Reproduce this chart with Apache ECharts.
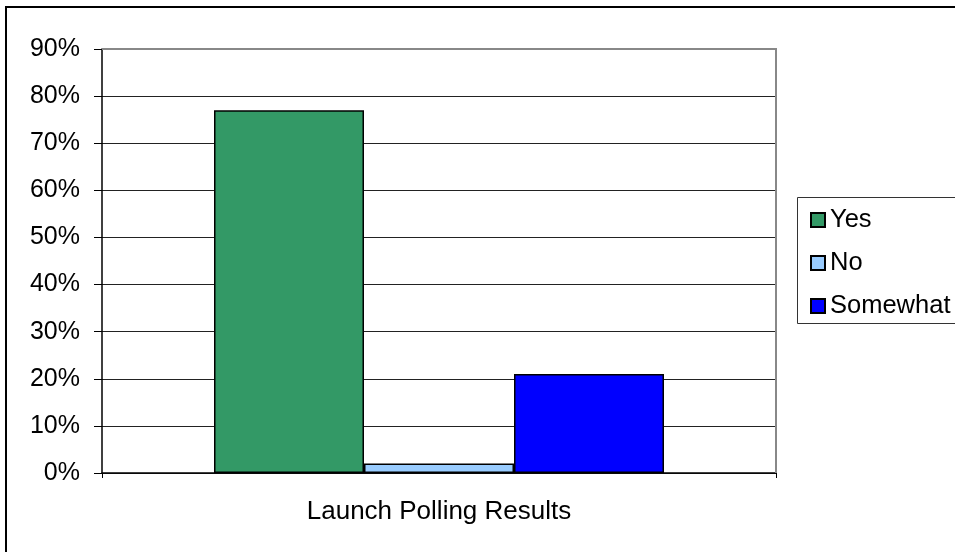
<!DOCTYPE html>
<html>
<head>
<meta charset="utf-8">
<script src="https://cdn.jsdelivr.net/npm/echarts@6/dist/echarts.min.js"></script>
<style>
html,body{margin:0;padding:0;background:#fff;}
#chart{width:955px;height:552px;}
</style>
</head>
<body>
<div id="chart"></div>
<script>
var categories = ['Launch Polling Results'];
var seriesNames = ['Yes', 'No', 'Somewhat'];
var yesValues = [77];
var noValues = [2];
var somewhatValues = [21];
var seriesColors = ['#339966', '#99CCFF', '#0000FF'];
var yTicks = { min: 0, max: 90, interval: 10 };

var FONT = 'Liberation Sans, Arial, sans-serif';
var chart = echarts.init(document.getElementById('chart'), null, {renderer: 'canvas'});

var seriesData = [yesValues, noValues, somewhatValues];
var series = seriesNames.map(function (name, i) {
  return {
    name: name,
    type: 'bar',
    data: seriesData[i],
    barWidth: 150,
    barGap: '0%',
    itemStyle: { color: seriesColors[i], borderColor: '#000', borderWidth: 1.5 },
    emphasis: { disabled: true },
    animation: false
  };
});

chart.setOption({
  animation: false,
  backgroundColor: '#fff',
  textStyle: { fontFamily: FONT },
  grid: { left: 102, top: 49, width: 674, height: 424, containLabel: false },
  xAxis: {
    type: 'category',
    data: categories,
    axisLine: { lineStyle: { color: '#000', width: 1.5 } },
    axisTick: { show: true, length: 5, lineStyle: { color: '#000' } },
    axisLabel: { fontSize: 26, color: '#000', margin: 26, fontFamily: FONT }
  },
  yAxis: {
    type: 'value',
    min: yTicks.min, max: yTicks.max, interval: yTicks.interval,
    axisLine: { show: true, lineStyle: { color: '#000', width: 1.5 } },
    axisTick: { show: true, length: 8, lineStyle: { color: '#000' } },
    axisLabel: { fontSize: 25, color: '#000', margin: 22, fontFamily: FONT, formatter: '{value}%' },
    splitLine: { show: true, lineStyle: { color: '#222', width: 1 } }
  },
  legend: {
    orient: 'vertical',
    left: 810,
    top: 207,
    padding: 0,
    itemWidth: 14,
    itemHeight: 14,
    itemGap: 17,
    icon: 'rect',
    selectedMode: false,
    textStyle: { fontSize: 25.5, color: '#000', fontFamily: FONT, lineHeight: 25 },
    data: seriesNames
  },
  graphic: [
    { type: 'rect', z: 100, silent: true, shape: { x: 6, y: 7, width: 1000, height: 600 },
      style: { fill: 'none', stroke: '#000', lineWidth: 2 } },
    { type: 'polyline', z: 100, silent: true, shape: { points: [[102, 49], [776, 49], [776, 473]] },
      style: { fill: 'none', stroke: '#888', lineWidth: 2 } },
    { type: 'rect', z: 100, silent: true, shape: { x: 797.5, y: 197.5, width: 200, height: 126 },
      style: { fill: 'none', stroke: '#333', lineWidth: 1 } }
  ],
  series: series
});
</script>
</body>
</html>
